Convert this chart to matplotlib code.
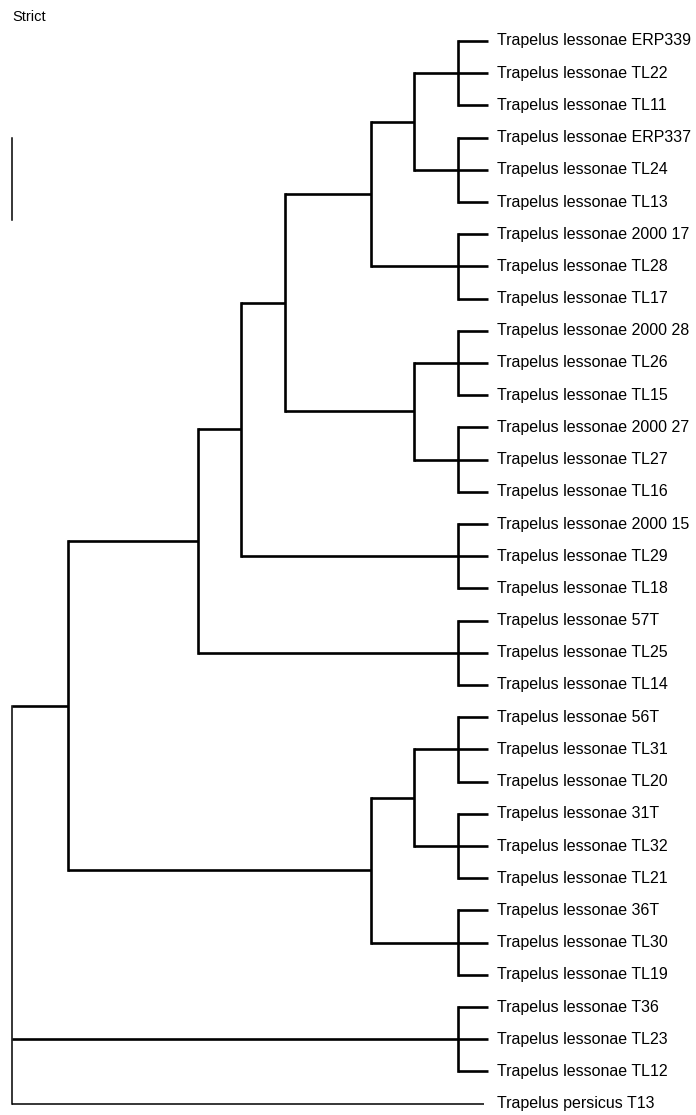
import matplotlib
matplotlib.use("Agg")
import matplotlib.pyplot as plt

plt.rcParams['font.family'] = ['Liberation Sans', 'DejaVu Sans']

# Leaf labels (top to bottom)
leaves = [
    "Trapelus lessonae ERP339", "Trapelus lessonae TL22", "Trapelus lessonae TL11",
    "Trapelus lessonae ERP337", "Trapelus lessonae TL24", "Trapelus lessonae TL13",
    "Trapelus lessonae 2000 17", "Trapelus lessonae TL28", "Trapelus lessonae TL17",
    "Trapelus lessonae 2000 28", "Trapelus lessonae TL26", "Trapelus lessonae TL15",
    "Trapelus lessonae 2000 27", "Trapelus lessonae TL27", "Trapelus lessonae TL16",
    "Trapelus lessonae 2000 15", "Trapelus lessonae TL29", "Trapelus lessonae TL18",
    "Trapelus lessonae 57T", "Trapelus lessonae TL25", "Trapelus lessonae TL14",
    "Trapelus lessonae 56T", "Trapelus lessonae TL31", "Trapelus lessonae TL20",
    "Trapelus lessonae 31T", "Trapelus lessonae TL32", "Trapelus lessonae TL21",
    "Trapelus lessonae 36T", "Trapelus lessonae TL30", "Trapelus lessonae TL19",
    "Trapelus lessonae T36", "Trapelus lessonae TL23", "Trapelus lessonae TL12",
    "Trapelus persicus T13",
]

# Node heights (distance from root, arbitrary units)
h_root = 0.0
h_A = 1.3
h_B = 4.3
h_C = 5.3
h_D = 6.3
h_E = 8.3
h_F = 9.3
h_G = 9.3
h_H = 8.3
h_I = 9.3
h_trip = 10.3
h_tip = 11.0
h_tip_outgroup = 10.9

# Tree topology: (height, [children]) ; leaves are integer indices
def trip(i):
    return (h_trip, [i, i + 1, i + 2])

tree = (h_root, [
    (h_A, [
        (h_B, [
            (h_C, [
                (h_D, [
                    (h_E, [
                        (h_F, [trip(0), trip(3)]),
                        trip(6),
                    ]),
                    (h_G, [trip(9), trip(12)]),
                ]),
                trip(15),
            ]),
            trip(18),
        ]),
        (h_H, [
            (h_I, [trip(21), trip(24)]),
            trip(27),
        ]),
    ]),
    trip(30),
    33,
])

W, H = 696, 1115
fig = plt.figure(figsize=(W / 100, H / 100), dpi=100)
ax = fig.add_axes([0, 0, 1, 1])
ax.set_axis_off()

px_per_x = 43.27
x0_px = 12
px_per_row = 32.2
y0_px = 41
ax.set_xlim(-x0_px / px_per_x, (W - x0_px) / px_per_x)
ax.set_ylim((H - y0_px) / px_per_row, -y0_px / px_per_row)

LW = 1.9
LW_THIN = 1.1


def draw(node, parent_h=None, thin_branch=False):
    if isinstance(node, int):
        y = node
        end = h_tip_outgroup if thin_branch else h_tip
        ax.plot([parent_h, end], [y, y], color='black',
                lw=LW_THIN if thin_branch else LW, solid_capstyle='butt')
        ax.annotate(leaves[node], (h_tip, y), xytext=(6.2, 0),
                    textcoords='offset points', va='center', ha='left',
                    fontsize=11.5, color='black')
        return y
    h, children = node
    ys = []
    for c in children:
        thin = isinstance(c, int) and h == h_root
        ys.append(draw(c, h, thin))
    ax.plot([h, h], [min(ys), max(ys)], color='black',
            lw=LW_THIN if h == h_root else LW, solid_capstyle='projecting')
    y = None
    if parent_h is not None:
        y = (ys[0] + ys[-1]) / 2
        ax.plot([parent_h, h], [y, y], color='black', lw=LW,
                solid_capstyle='butt')
    return y


draw(tree)

# scale bar
sb_top, sb_bot = 3.0, 5.55
ax.plot([0, 0], [sb_top, sb_bot], color='black', lw=LW_THIN)

fig.text(12 / W, 1 - 17 / H, "Strict", fontsize=10.5, va='center', ha='left')

fig.savefig("out.png", dpi=100, facecolor='white')
